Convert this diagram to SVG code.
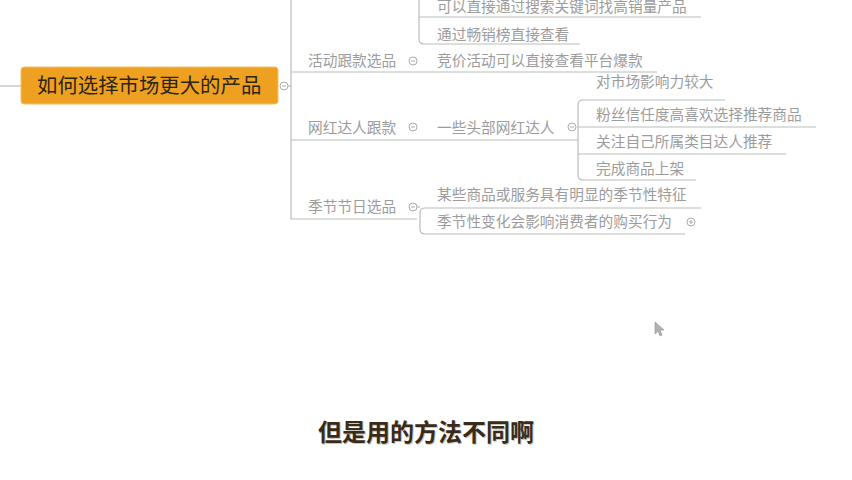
<svg xmlns="http://www.w3.org/2000/svg" width="852" height="480" viewBox="0 0 852 480">
<style>
.ln{fill:none;stroke:#B9BDB9;stroke-width:1.2}
.t{font-family:"Noto Sans CJK SC","Noto Sans",sans-serif;font-size:14.7px;fill:#9C9C9C}
.c{fill:#fff;stroke:#A9ADA9;stroke-width:1}
.cm{stroke:#A9ADA9;stroke-width:1}
</style>
<rect width="852" height="480" fill="#fff"/>
<g id="connectors">
<path class="ln" d="M0 86H21"/>
<path class="ln" d="M288 86H291"/>
<path class="ln" d="M291 0V219H417"/>
<path class="ln" d="M291 72H657"/>
<path class="ln" d="M291 140H578"/>
<path class="ln" d="M419 0V39Q419 44 424 44H580"/>
<path class="ln" d="M419 17H701"/>
<path class="ln" d="M725 100H583Q578 100 578 105V175Q578 180 583 180H696"/>
<path class="ln" d="M578 127H816"/>
<path class="ln" d="M578 154H786"/>
<path class="ln" d="M701 208H425Q420 208 420 213V229Q420 234 425 234H685"/>
<path class="ln" d="M417 207H420"/>
</g>
<g id="root">
<rect x="21" y="67" width="257" height="37" rx="3" fill="#EEA021" stroke="#F3C06A" stroke-width="1"/>
<text x="37" y="93" font-family="Noto Sans CJK SC,sans-serif" font-size="20.4" fill="#2E2414">如何选择市场更大的产品</text>
<circle class="c" cx="284" cy="86" r="4"/><path class="cm" d="M282 86H286"/>
</g>
<g id="n-top1"><text class="t" x="437" y="12">可以直接通过搜索关键词找高销量产品</text></g>
<g id="n-top2"><text class="t" x="437" y="40">通过畅销榜直接查看</text></g>
<g id="n-huodong">
<text class="t" x="308" y="66">活动跟款选品</text>
<circle class="c" cx="413" cy="61" r="4"/><path class="cm" d="M411 61H415"/>
</g>
<g id="n-jingjia"><text class="t" x="437" y="66">竞价活动可以直接查看平台爆款</text></g>
<g id="n-wanghong">
<text class="t" x="308" y="133">网红达人跟款</text>
<circle class="c" cx="413" cy="127" r="4"/><path class="cm" d="M411 127H415"/>
</g>
<g id="n-toubu">
<text class="t" x="437" y="133">一些头部网红达人</text>
<circle class="c" cx="572" cy="127" r="4"/><path class="cm" d="M570 127H574"/>
</g>
<g id="n-w1"><text class="t" x="596" y="87">对市场影响力较大</text></g>
<g id="n-w2"><text class="t" x="596" y="120">粉丝信任度高喜欢选择推荐商品</text></g>
<g id="n-w3"><text class="t" x="596" y="147">关注自己所属类目达人推荐</text></g>
<g id="n-w4"><text class="t" x="596" y="174">完成商品上架</text></g>
<g id="n-jijie">
<text class="t" x="308" y="212">季节节日选品</text>
<circle class="c" cx="413" cy="207" r="4"/><path class="cm" d="M411 207H415"/>
</g>
<g id="n-j1"><text class="t" x="437" y="200">某些商品或服务具有明显的季节性特征</text></g>
<g id="n-j2">
<text class="t" x="437" y="227">季节性变化会影响消费者的购买行为</text>
<circle class="c" cx="691" cy="222" r="4"/><path class="cm" d="M689 222H693M691 220V224"/>
</g>
<path d="M655 322V334L658 331L660 336L662 335L660 330H664Z" fill="#B0B4B0" stroke="#8E928E" stroke-width="0.6"/>
<g id="subtitle">
<text x="427" y="442" text-anchor="middle" font-family="Noto Sans CJK SC,sans-serif" font-size="24" font-weight="bold" fill="#C8C8C0">但是用的方法不同啊</text>
<text x="426" y="441" text-anchor="middle" font-family="Noto Sans CJK SC,sans-serif" font-size="24" font-weight="bold" fill="#3B2A18">但是用的方法不同啊</text>
</g>
</svg>
